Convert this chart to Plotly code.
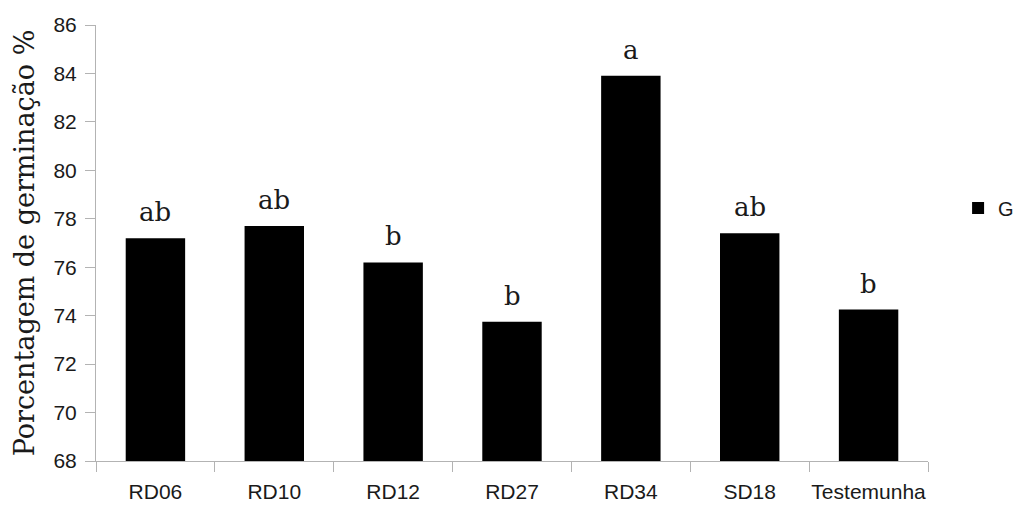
import plotly.graph_objects as go

categories = ["RD06", "RD10", "RD12", "RD27", "RD34", "SD18", "Testemunha"]
germination = [77.2, 77.7, 76.2, 73.75, 83.9, 77.4, 74.25]
letters = ["ab", "ab", "b", "b", "a", "ab", "b"]
y_ticks = [68, 70, 72, 74, 76, 78, 80, 82, 84, 86]

sans = "Liberation Sans, Arial, sans-serif"
serif = "DejaVu Serif, serif"
axis_grey = "#b3b3b3"
text_col = "#1a1a1a"

fig = go.Figure()
fig.add_trace(go.Bar(
    x=categories, y=germination, name="G",
    marker=dict(color="#000000", line=dict(color="#000000", width=0)),
    showlegend=True,
))

for c, v, t in zip(categories, germination, letters):
    fig.add_annotation(x=c, y=v, text=t, showarrow=False, yanchor="bottom",
                       yshift=9, font=dict(family=serif, size=26, color=text_col))

fig.update_layout(
    width=1016, height=506,
    margin=dict(l=96, r=88, t=25, b=45),
    paper_bgcolor="white", plot_bgcolor="white",
    bargap=0.5,
    showlegend=True,
    legend=dict(xref="container", yref="container", x=0.943, y=0.589,
                xanchor="left", yanchor="middle",
                font=dict(family=sans, size=20, color=text_col),
                bgcolor="rgba(0,0,0,0)", itemwidth=30),
    xaxis=dict(
        showline=True, linecolor=axis_grey, linewidth=1,
        ticks="outside", tickson="boundaries", ticklen=10, tickcolor=axis_grey,
        showgrid=False, tickangle=0, automargin=False, ticklabelstandoff=12,
        tickfont=dict(family=sans, size=21, color=text_col),
    ),
    yaxis=dict(
        range=[68, 86], tickvals=y_ticks, showline=True, linecolor=axis_grey,
        linewidth=1, ticks="outside", ticklen=10, tickcolor=axis_grey,
        showgrid=False, zeroline=False, automargin=False, ticklabelstandoff=4,
        tickfont=dict(family=sans, size=21, color=text_col),
        title=dict(text="Porcentagem de germinação %",
                   font=dict(family=serif, size=27, color=text_col), standoff=10),
    ),
)

fig.write_html(
    "out.html",
    config={"displayModeBar": False},
    post_script="document.body.style.margin='0';document.body.style.overflow='hidden';",
)
